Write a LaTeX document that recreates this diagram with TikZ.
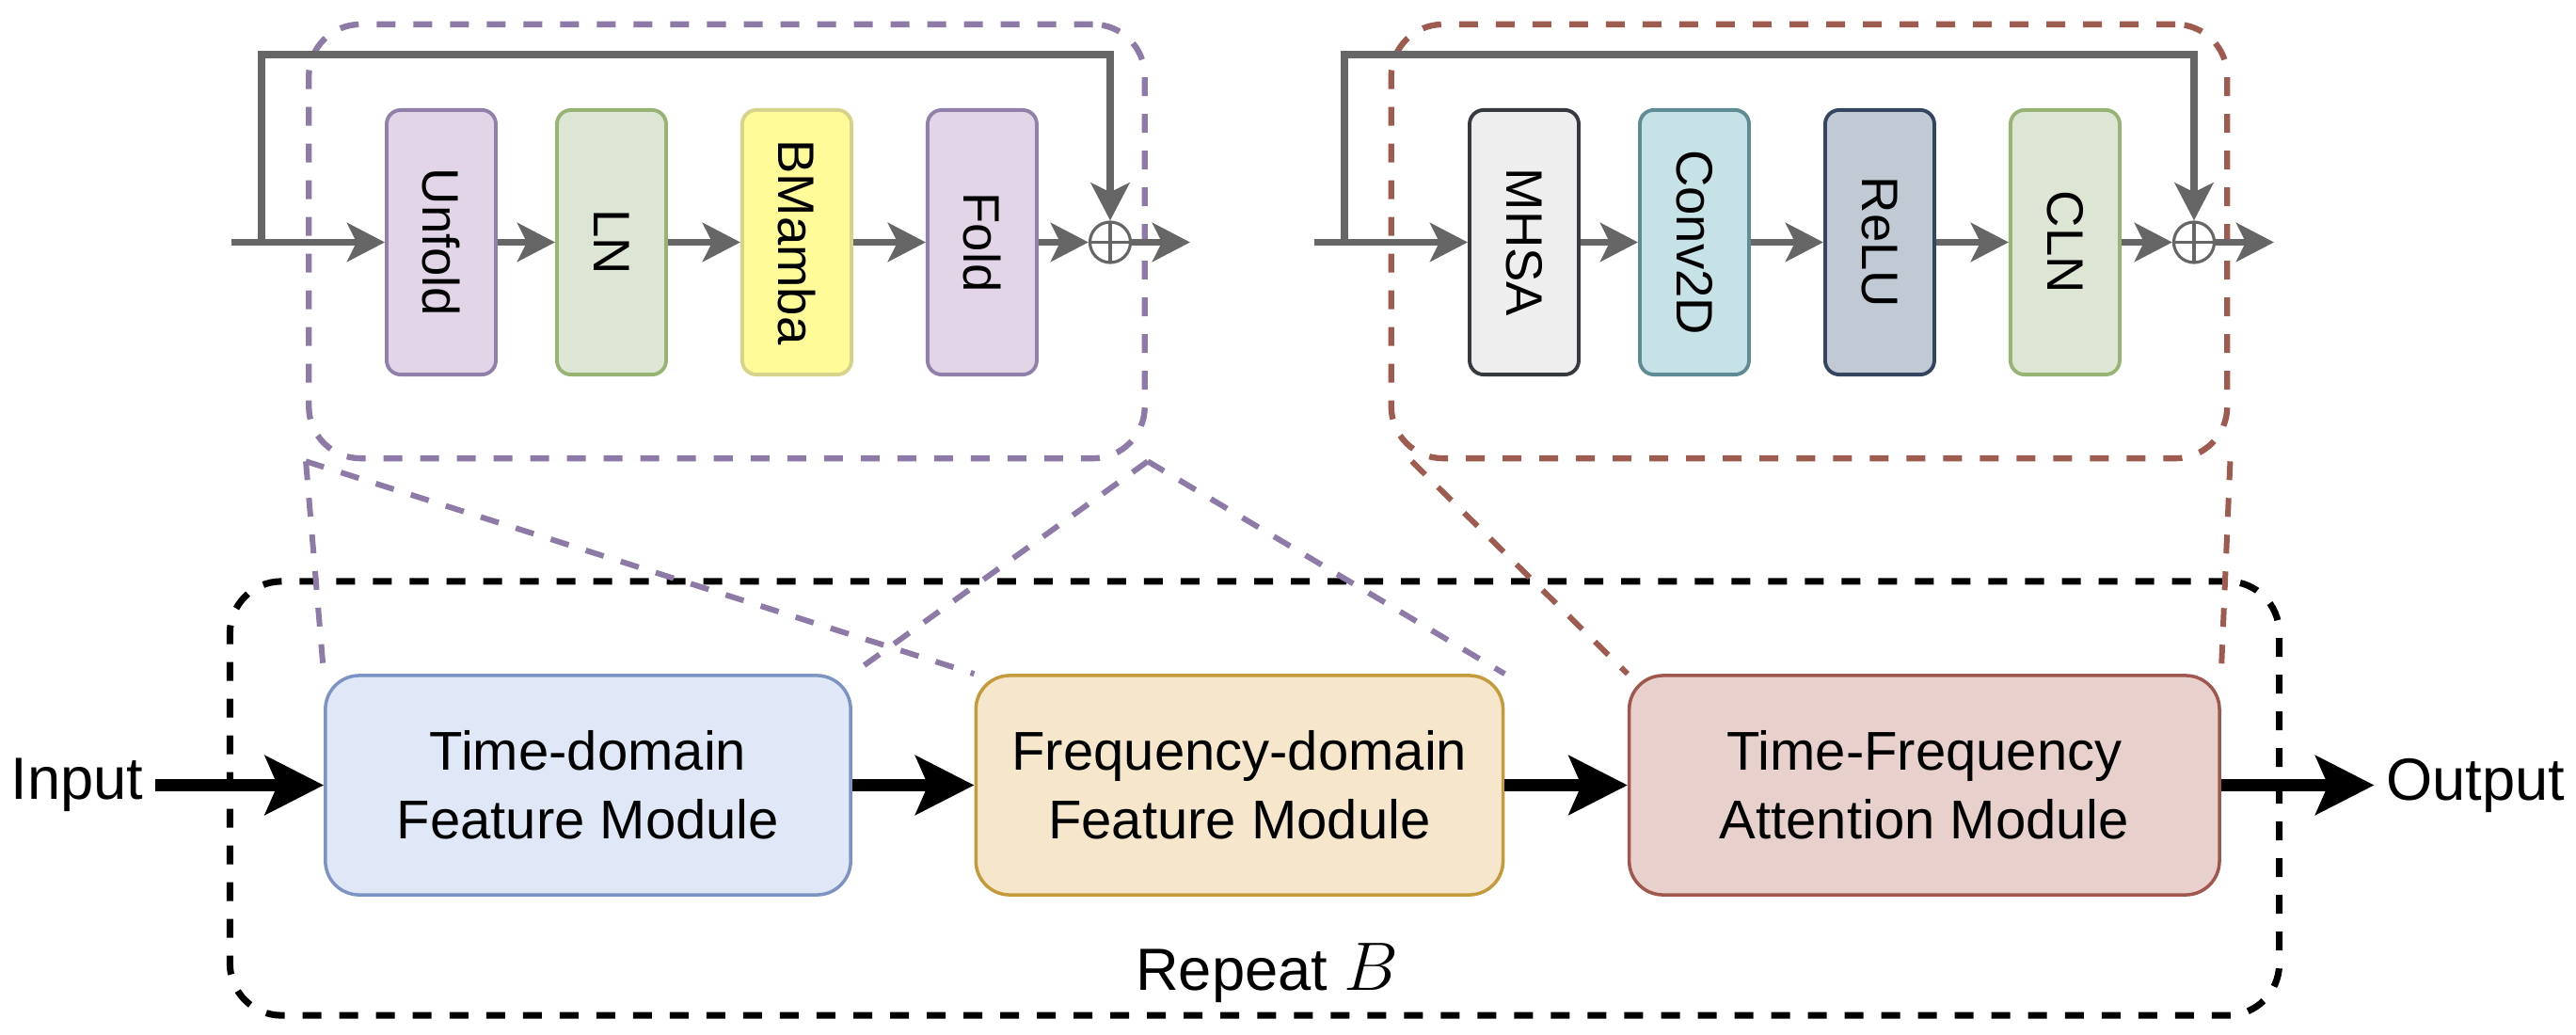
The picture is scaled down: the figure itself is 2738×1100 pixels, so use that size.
\documentclass[tikz,border=0pt]{standalone}
\usepackage{fontspec}
\setmainfont{Liberation Sans}
\usepackage{graphicx}
\usetikzlibrary{arrows.meta,positioning}

\definecolor{flowgray}{HTML}{666666}
\definecolor{unfoldfill}{HTML}{E1D5E7}
\definecolor{unfoldline}{HTML}{9180A9}
\definecolor{lnfill}{HTML}{DDE6D5}
\definecolor{lnline}{HTML}{97B474}
\definecolor{bmfill}{HTML}{FFFB99}
\definecolor{bmline}{HTML}{D6D38A}
\definecolor{mhsafill}{HTML}{EEEEEE}
\definecolor{mhsaline}{HTML}{36393D}
\definecolor{convfill}{HTML}{C6E2E6}
\definecolor{convline}{HTML}{5F8C94}
\definecolor{relufill}{HTML}{C1C9D4}
\definecolor{reluline}{HTML}{33455F}
\definecolor{tdfill}{HTML}{E0E8F8}
\definecolor{tdline}{HTML}{7C93C3}
\definecolor{fqfill}{HTML}{F5E6CC}
\definecolor{fqline}{HTML}{C49A3A}
\definecolor{tffill}{HTML}{E8D0CC}
\definecolor{tfline}{HTML}{A0574D}
\definecolor{tdgroup}{HTML}{8E7AA6}
\definecolor{tfgroup}{HTML}{9E5B4F}

\begin{document}
\begin{tikzpicture}[x=0.01cm,y=-0.01cm,
  every node/.style={font=\fontsize{16.5}{20.7}\selectfont},
  op/.style={draw,rounded corners=0.15cm,minimum width=1.16cm,minimum height=2.81cm,
    inner sep=0pt,line width=1.1pt,font=\fontsize{15.5}{18}\selectfont},
  module/.style={draw,rounded corners=0.36cm,minimum height=2.33cm,inner sep=0pt,
    line width=1pt,align=center},
  group/.style={draw,dash pattern=on 0.2cm off 0.19cm,rounded corners=0.55cm,
    minimum width=8.88cm,minimum height=4.61cm,line width=1.8pt},
  link/.style={dash pattern=on 0.2cm off 0.19cm,line width=1.7pt},
  flow/.style={draw=flowgray,line width=2.2pt,-{Stealth[length=0.4cm,width=0.41cm,inset=0.1cm]}},
  bigflow/.style={line width=3.7pt,-{Stealth[length=0.62cm,width=0.62cm,inset=0.13cm]}},
  oplus/.style={circle,draw=flowgray,line width=0.9pt,minimum size=0.43cm,inner sep=0pt,
    path picture={\draw[flowgray,line width=0.9pt]
      (path picture bounding box.north) -- (path picture bounding box.south)
      (path picture bounding box.west) -- (path picture bounding box.east);}},
  io/.style={font=\fontsize{18}{22}\selectfont}
]
\useasboundingbox (0,0) rectangle (2738,1100);

% time-domain block
\node[group,draw=tdgroup] (tdgrp) at (772.5,256.5) {};
\node[op,fill=unfoldfill,draw=unfoldline] (unfold) at (469,257.5) {\rotatebox{-90}{Unfold}};
\node[op,fill=lnfill,draw=lnline,right=0.61cm of unfold] (ln) {\rotatebox{-90}{LN}};
\node[op,fill=bmfill,draw=bmline,right=0.77cm of ln] (bmamba) {\rotatebox{-90}{BMamba}};
\node[op,fill=unfoldfill,draw=unfoldline,right=0.77cm of bmamba] (fold) {\rotatebox{-90}{Fold}};
\node[oplus] (sum1) at (1180,257.5) {};
\coordinate (in1) at (246,257.5);
\coordinate (split1) at (278,257.5);
\coordinate (top1) at (1180,58);
\coordinate (out1) at (1265,257.5);
\draw[flow] (in1) -- (unfold);
\draw[flow] (unfold) -- (ln);
\draw[flow] (ln) -- (bmamba);
\draw[flow] (bmamba) -- (fold);
\draw[flow] (fold) -- (sum1);
\draw[flow] (sum1) -- (out1);
\draw[flow] (split1) |- (top1) -- (sum1);

% attention block
\node[group,draw=tfgroup] (tfgrp) at (1923,256.5) {};
\node[op,fill=mhsafill,draw=mhsaline] (mhsa) at (1620,257.5) {\rotatebox{-90}{MHSA}};
\node[op,fill=convfill,draw=convline,right=0.61cm of mhsa] (conv) {\rotatebox{-90}{Conv2D}};
\node[op,fill=relufill,draw=reluline,right=0.77cm of conv] (relu) {\rotatebox{-90}{ReLU}};
\node[op,fill=lnfill,draw=lnline,right=0.77cm of relu] (cln) {\rotatebox{-90}{CLN}};
\node[oplus] (sum2) at (2332,257.5) {};
\coordinate (in2) at (1397,257.5);
\coordinate (split2) at (1429,257.5);
\coordinate (top2) at (2332,58);
\coordinate (out2) at (2417,257.5);
\draw[flow] (in2) -- (mhsa);
\draw[flow] (mhsa) -- (conv);
\draw[flow] (conv) -- (relu);
\draw[flow] (relu) -- (cln);
\draw[flow] (cln) -- (sum2);
\draw[flow] (sum2) -- (out2);
\draw[flow] (split2) |- (top2) -- (sum2);

% repeated stack
\node[draw,dash pattern=on 0.2cm off 0.19cm,rounded corners=0.55cm,line width=2pt,
  minimum width=21.77cm,minimum height=4.61cm] (stack) at (1333.5,848.5) {};
\node[module,fill=tdfill,draw=tdline,minimum width=5.58cm] (tdm) at (625,834.5) {Time-domain\\Feature Module};
\node[module,fill=fqfill,draw=fqline,minimum width=5.6cm,right=1.295cm of tdm] (fdm) {Frequency-domain\\Feature Module};
\node[module,fill=tffill,draw=tfline,minimum width=6.27cm,right=1.305cm of fdm] (tfa) {Time-Frequency\\Attention Module};
\node[io] (inp) at (82,834.5) {Input};
\node[io] (outp) at (2631,834.5) {Output};
\node[anchor=base,font=\fontsize{18}{21}\selectfont] (reptxt) at (1347,1052) {Repeat {\fontsize{22}{26}\selectfont$B$}};
\draw[bigflow] (inp) -- (tdm);
\draw[bigflow] (tdm) -- (fdm);
\draw[bigflow] (fdm) -- (tfa);
\draw[bigflow] (tfa) -- (outp);

% zoom lines
\draw[link,draw=tdgroup] (tdgrp.south west) -- (tdm.north west);
\draw[link,draw=tdgroup] (tdgrp.south east) -- (tdm.north east);
\draw[link,draw=tdgroup] (tdgrp.south west) -- (fdm.north west);
\draw[link,draw=tdgroup] (tdgrp.south east) -- (fdm.north east);
\draw[link,draw=tfgroup] ([xshift=0.25cm]tfgrp.south west) -- (tfa.north west);
\draw[link,draw=tfgroup] (tfgrp.south east) -- (tfa.north east);
\end{tikzpicture}
\end{document}
